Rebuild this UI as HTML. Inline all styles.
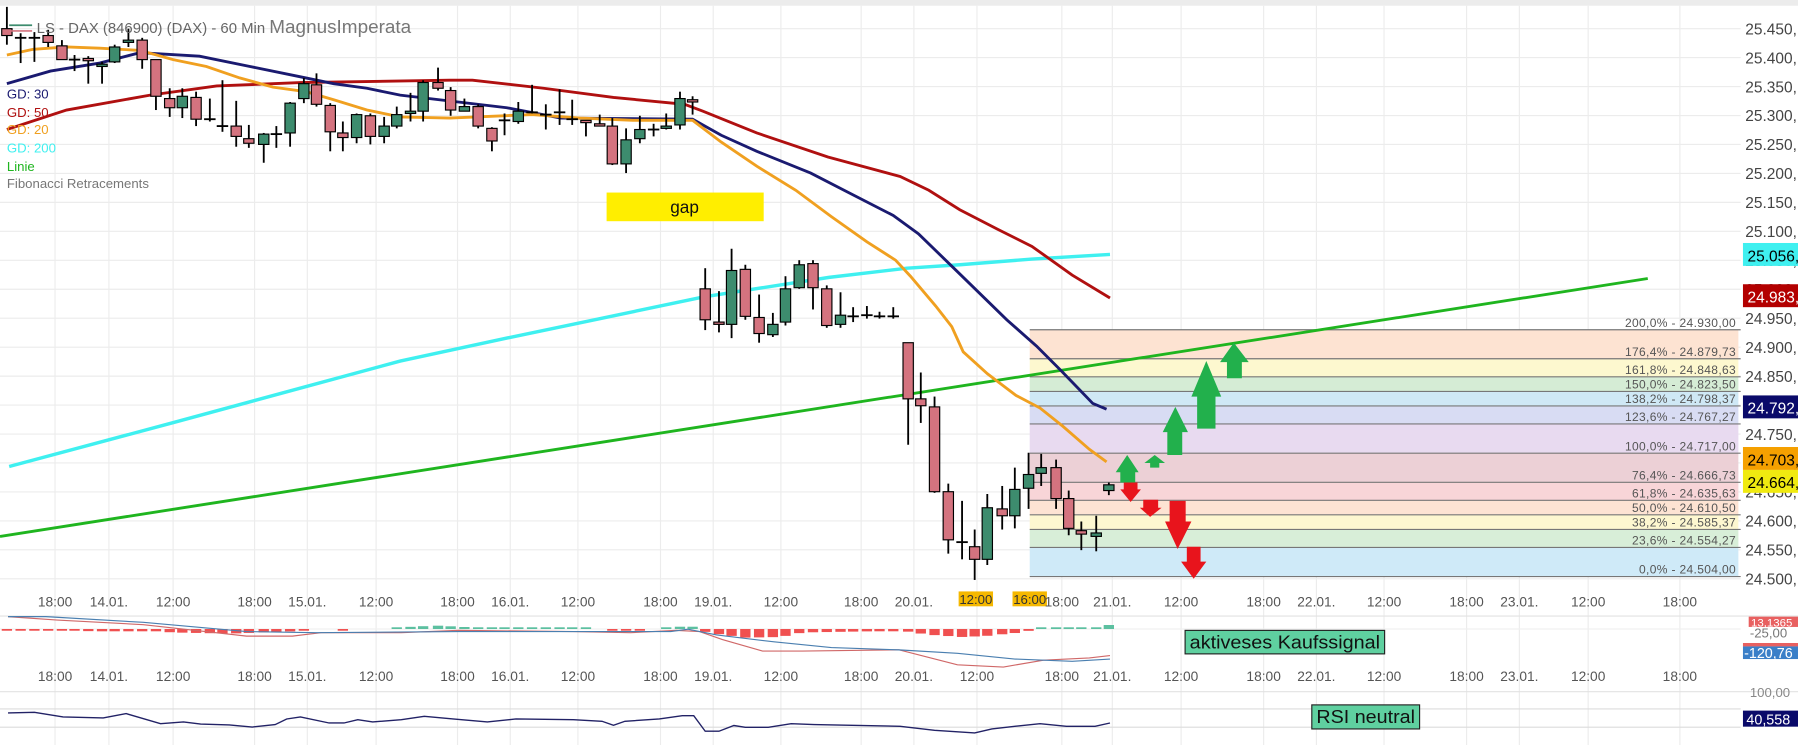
<!DOCTYPE html>
<html><head><meta charset="utf-8"><style>
html,body{margin:0;padding:0;background:#fff;overflow:hidden}
svg{display:block}
text{font-family:"Liberation Sans",Arial,sans-serif}
</style></head><body>
<svg id="s" width="1798" height="745" viewBox="0 0 1568 650" preserveAspectRatio="none" xmlns="http://www.w3.org/2000/svg">
<rect x="0" y="0" width="1568" height="650" fill="#fff"/>
<rect x="0" y="0" width="1568" height="5" fill="#ececec"/>
<g id="grid" stroke="#ececec" stroke-width="1"></g>
<g id="fib"></g>
<!-- MA lines -->
<polyline fill="none" stroke="#3ff0f0" stroke-width="3" points="8,407 150,369 349,315 442,295 614,259 723,242 791,234 837,231 900,226 968,222"/>
<polyline fill="none" stroke="#1fb51f" stroke-width="2.5" points="0,468 1437,243"/>
<polyline fill="none" stroke="#b01010" stroke-width="2.5" points="6,113 58,96 131,83 189,75 262,72 392,70 412,70 474,77 535,85 597,91 613,97 660,116 722,137 785,154 810,166 837,183 870,200 900,215 935,240 968,260"/>
<polyline fill="none" stroke="#1a1a70" stroke-width="2.5" points="6,73 44,62 87,55 122,46 174,49 218,58 262,67 291,73 320,77 349,83 442,94 489,103 604,104 629,118 660,132 707,151 738,167 779,188 801,204 838,240 878,279 904,302 925,323 953,352 965,357"/>
<polyline fill="none" stroke="#f0a020" stroke-width="2.5" points="6,48 29,43 58,41 87,42 122,44 151,52 180,58 209,68 238,76 267,80 291,87 320,96 349,102 392,103 464,100 506,103 552,105 604,105 629,124 660,145 694,166 725,189 756,211 781,227 794,241 816,267 830,285 840,307 861,326 886,345 907,356 927,372 950,392 965,403"/>
<g id="candles"></g>
<!-- arrows -->
<g fill="#22b04c">
<polygon points="983,397 993,412 990,412 990,421 977,421 977,412 973,412"/>
<polygon points="1007,397 1016,404 1011,404 1011,408 1003,408 1003,404 998,404"/>
<polygon points="1025,355 1036,377 1031,377 1031,397 1018,397 1018,377 1014,377"/>
<polygon points="1052,315 1065,346 1060,346 1060,374 1044,374 1044,346 1039,346"/>
<polygon points="1076,299 1089,316 1083,316 1083,330 1070,330 1070,316 1064,316"/>
</g>
<g fill="#e8141c">
<polygon points="980,421 992,421 992,427 995,427 986,438 977,427 980,427"/>
<polygon points="997,436 1010,436 1010,443 1013,443 1003,451 994,443 997,443"/>
<polygon points="1020,437 1034,437 1034,455 1039,455 1027,479 1016,455 1020,455"/>
<polygon points="1035,477 1047,477 1047,490 1052,490 1041,505 1030,490 1035,490"/>
</g>
<!-- gap -->
<rect x="529" y="168" width="137" height="25" fill="#ffee00"/>
<text x="597" y="186" font-size="15" text-anchor="middle" fill="#111">gap</text>
<!-- title & legend -->
<line x1="8" y1="22" x2="28" y2="22" stroke="#3d8c6e" stroke-width="1.5"/>
<line x1="8" y1="27" x2="28" y2="27" stroke="#d4737f" stroke-width="1.5"/>
<text x="32" y="29" font-size="13" fill="#666">LS - DAX (846900) (DAX) - 60 Min <tspan font-size="16.5" fill="#777">MagnusImperata</tspan></text>
<g font-size="11.5">
<text x="6" y="86" fill="#1a1a70">GD: 30</text>
<text x="6" y="102" fill="#b01010">GD: 50</text>
<text x="6" y="117" fill="#f0a020">GD: 20</text>
<text x="6" y="133" fill="#3ff0f0">GD: 200</text>
<text x="6" y="149" fill="#1fb51f">Linie</text>
<text x="6" y="164" fill="#777">Fibonacci Retracements</text>
</g>
<!-- price axis -->
<g id="pax" font-size="13.5" fill="#444"></g>
<g font-size="13.5">
<rect x="1520" y="212" width="48" height="20" fill="#3ff0f0"/><text x="1524" y="228" fill="#000">25.056,</text>
<rect x="1520" y="248" width="48" height="20" fill="#b30000"/><text x="1524" y="264" fill="#fff">24.983,</text>
<rect x="1520" y="345" width="48" height="20" fill="#0a0a6a"/><text x="1524" y="361" fill="#fff">24.792,</text>
<rect x="1520" y="390" width="48" height="20" fill="#f5a000"/><text x="1524" y="406" fill="#000">24.703,</text>
<rect x="1520" y="410" width="48" height="20" fill="#f0ea10"/><text x="1524" y="426" fill="#000">24.664,</text>
</g>
<!-- panels -->
<line x1="0" y1="537.5" x2="1568" y2="537.5" stroke="#e2e2e2"/>
<line x1="0" y1="603.5" x2="1568" y2="603.5" stroke="#e2e2e2"/>
<line x1="0" y1="618.5" x2="1518" y2="618.5" stroke="#dcdcdc"/>
<line x1="0" y1="634.5" x2="1518" y2="634.5" stroke="#dcdcdc"/>
<line x1="0" y1="548.8" x2="1518" y2="548.8" stroke="#f0f0f0"/>
<g id="hist"></g>
<polyline fill="none" stroke="#d06868" stroke-width="1" points="7,538 50,541 125,545 215,555 255,555 280,552 350,552 400,550 500,551 550,552 590,550 610,551 630,558 665,568 700,568 784,567 835,580 875,582 910,576 950,574 968,572"/>
<polyline fill="none" stroke="#4a7fb0" stroke-width="1" points="7,538 40,538 125,543 215,551 275,552 400,551 500,551 585,551 600,549 625,554 675,560 725,565 784,567 835,570 885,575 935,577 968,575"/>
<polyline fill="none" stroke="#222266" stroke-width="1.2" points="7,622 30,621.5 55,625.5 90,626.4 110,622.6 140,631.4 160,629.9 175,631.7 200,632.5 220,634.3 240,632.2 250,627.3 262,625.5 287,630.8 300,630.8 312,627.9 325,629.9 350,627.9 370,625 395,627.3 425,629.9 450,627.3 500,627.9 525,629.3 535,632.8 545,629.3 575,627.3 595,624.4 605,624.4 615,638 627,638 640,633 650,634.6 670,634.6 690,631.4 710,632.2 785,633.7 815,637.2 850,639.5 865,636 885,633.7 907,631.4 930,633.7 955,633.7 968,630.8"/>
<rect x="1033.5" y="550" width="174" height="20.5" fill="#5fd0a0" stroke="#222" stroke-width="1"/>
<text x="1120.5" y="566" font-size="16" text-anchor="middle" fill="#111" textLength="166" lengthAdjust="spacingAndGlyphs">aktiveses Kaufssignal</text>
<rect x="1144" y="615" width="94" height="21" fill="#5fd0a0" stroke="#222" stroke-width="1"/>
<text x="1191" y="631" font-size="16" text-anchor="middle" fill="#111" textLength="86" lengthAdjust="spacingAndGlyphs">RSI neutral</text>
<g font-size="11.5">
<rect x="1525" y="538" width="43" height="9" fill="#e86060"/><text x="1527" y="546.5" fill="#fff" font-size="10">13,1365</text>
<text x="1526" y="556" fill="#777">-25,00</text>
<rect x="1520" y="561" width="48" height="3" fill="#e86060"/>
<rect x="1520" y="564" width="48" height="11" fill="#3a7fc8"/><text x="1521" y="574" fill="#fff" font-size="12.5">-120,76</text>
<text x="1526" y="608" fill="#888">100,00</text>
<rect x="1520" y="620" width="48" height="14" fill="#0a0a6a"/><text x="1523" y="632" fill="#fff" font-size="12.5">40,558</text>
</g>
<g id="tl" font-size="12" fill="#555" text-anchor="middle"></g>
<rect x="836" y="516" width="30" height="13" fill="#f5b800"/>
<rect x="883" y="516" width="30" height="13" fill="#f5b800"/>
<g font-size="11.5" fill="#333" text-anchor="middle">
<text x="851" y="527">12:00</text><text x="898" y="527">16:00</text>
</g>
</svg>
<script>
var NS="http://www.w3.org/2000/svg",svg=document.getElementById('s');
function el(p,t,a){var e=document.createElementNS(NS,t);for(var k in a)e.setAttribute(k,a[k]);p.appendChild(e);return e;}
var tx=[48,95,151,222,268,328,399,445,504,576,622,681,751,797,852,926,970,1030,1102,1148,1207,1279,1325,1385,1465];
var g=document.getElementById('grid');
tx.forEach(function(x){el(g,'line',{x1:x,y1:5,x2:x,y2:650});});
for(var k=0;k<20;k++){var y=25+25.263*k;el(g,'line',{x1:0,y1:y,x2:1518,y2:y});}
// price axis
var pax=document.getElementById('pax');
for(var k=0;k<20;k++){var p=25450-50*k;var s=(p/1000).toFixed(3)+',';var t=el(pax,'text',{x:1522,y:25+25.263*k+5});t.textContent=s;}
// fib
var f=document.getElementById('fib');
var lv=[[287.7,'200,0% - 24.930,00','#fde3d2'],[313,'176,4% - 24.879,73','#fdf8cf'],[328.8,'161,8% - 24.848,63','#d5ecd5'],[341.5,'150,0% - 24.823,50','#cfe8f5'],[354.2,'138,2% - 24.798,37','#d8dcf3'],[369.9,'123,6% - 24.767,27','#e8daf0'],[395.4,'100,0% - 24.717,00','#ecd0d6'],[420.8,'76,4% - 24.666,73','#f8d5d8'],[436.5,'61,8% - 24.635,63','#fde3d3'],[449.2,'50,0% - 24.610,50','#fdf7d0'],[461.9,'38,2% - 24.585,37','#d8eed8'],[477.6,'23,6% - 24.554,27','#cfeaf8'],[503,'0,0% - 24.504,00',null]];
for(var i=0;i<lv.length-1;i++){el(f,'rect',{x:898,y:lv[i][0],width:618,height:lv[i+1][0]-lv[i][0],fill:lv[i][2]});}
lv.forEach(function(l){el(f,'line',{x1:898,y1:l[0],x2:1518,y2:l[0],stroke:'#777','stroke-width':1});});
lv.forEach(function(l,i){var t=el(f,'text',{x:1514,y:l[0]-2.5,'font-size':10.5,fill:'#555','text-anchor':'end','letter-spacing':'0.3'});t.textContent=l[1];});
// candles
var C=[[6,25,31,6,39,'r'],[18,33,33,29,55,'d'],[30,33,33,28,54,'d'],[42,31,37,26,41,'r'],[54,40,52,35,52,'r'],[65,52,52,48,62,'d'],[77,51,53,49,73,'r'],[89,56,58,54,73,'g'],[100,41,54,39,55,'g'],[112,35,37,25,41,'g'],[124,35,52,33,60,'r'],[136,52,84,52,96,'r'],[148,86,94,77,102,'r'],[159,84,94,77,103,'g'],[171,85,104,80,110,'r'],[183,104,104,86,106,'d'],[194,110,110,70,115,'d'],[206,110,119,88,128,'r'],[217,121,125,109,129,'r'],[230,117,126,116,142,'g'],[241,117,117,110,129,'d'],[253,90,116,89,128,'g'],[265,73,86,68,90,'g'],[276,74,91,64,93,'r'],[288,92,115,90,132,'r'],[299,116,120,106,132,'r'],[311,100,120,99,125,'g'],[323,101,119,99,126,'r'],[335,110,119,102,125,'g'],[346,100,110,93,112,'g'],[358,97,99,81,106,'g'],[369,72,97,70,106,'g'],[382,72,77,59,79,'r'],[393,79,96,76,101,'r'],[405,93,97,86,97,'g'],[417,93,110,91,112,'r'],[429,112,123,111,132,'r'],[440,105,105,99,118,'d'],[452,97,106,89,108,'g'],[464,98,98,74,99,'d'],[476,100,100,91,113,'d'],[488,98,98,78,109,'d'],[499,104,104,87,109,'d'],[511,105,106.5,105,119,'r'],[523,108,109.5,100,110,'r'],[534,110,143,103,144,'r'],[546,122,143,112,151,'g'],[558,113,121,101,125,'g'],[570,113,113,108,119,'d'],[581,110,111.5,99,113,'g'],[593,86,109,80,113,'g'],[604,87,89,84,100,'r'],[615,252,279,234,288,'r'],[627,281,283,254,290,'r'],[638,236,283,217,295,'g'],[650,235,276,231,279,'r'],[662,277,291,257,299,'r'],[674,283,292,273,294,'g'],[685,252,281,241,284,'g'],[697,231,251,227,252,'g'],[709,230,251,227,270,'r'],[721,252,284,249,286,'r'],[733,275,283,255,286,'g'],[744,276,276,268,281,'d'],[756,275,275,267,278,'d'],[767,276,276,272,278,'d'],[779,276,276,268,278,'d'],[792,299,348,299,388,'r'],[803,348,354,325,369,'r'],[815,355,429,346,430,'r'],[827,429,471,422,483,'r'],[839,473,473,437,488,'d'],[850,477,488,462,506,'r'],[861,443,488,431,493,'g'],[874,444,450,424,462,'r'],[885,427,450,408,461,'g'],[897,414,426,395,444,'g'],[908,408,413,396,424,'g'],[921,408,435,401,444,'r'],[932,435,461,428,467,'r'],[943,463,466,455,480,'r'],[956,465,468,450,481,'g'],[967,423,428,421,432,'g']];
var cg=document.getElementById('candles');
C.forEach(function(c){var x=c[0];el(cg,'line',{x1:x,y1:c[3],x2:x,y2:c[4],stroke:'#000','stroke-width':1.6});
 if(c[5]=='d'){el(cg,'line',{x1:x-5,y1:c[1],x2:x+5,y2:c[1],stroke:'#000','stroke-width':1.6});}
 else{el(cg,'rect',{x:x-4.5,y:c[1],width:9,height:Math.max(2,c[2]-c[1]),fill:c[5]=='g'?'#3d8c6e':'#d4737f',stroke:'#000','stroke-width':1});}});
// histogram
var H=[[0,-1],[60,-1],[80,-2],[140,-2],[150,-3],[200,-4],[230,-3],[255,-2],[270,0],[290,0],[295,-1],[305,0],[335,0],[340,1],[380,3],[420,1],[445,1],[515,1],[525,0],[530,-1],[550,-1],[575,0],[590,2],[605,2],[612,-2],[630,-5],[650,-7.5],[680,-7],[700,-3],[760,-2],[790,-2],[810,-5],[840,-7],[860,-6],[890,-3],[900,-1],[905,1],[955,1],[967,3.5]];
function hv(x){for(var i=0;i<H.length-1;i++){if(x>=H[i][0]&&x<=H[i+1][0]){var t=(x-H[i][0])/(H[i+1][0]-H[i][0]);return H[i][1]+t*(H[i+1][1]-H[i][1]);}}return 0;}
var hg=document.getElementById('hist');
C.forEach(function(c){var v=hv(c[0]);if(Math.abs(v)<0.4)return;var h=Math.max(1.5,Math.abs(v));
 el(hg,'rect',{x:c[0]-4.5,y:v>0?548.8-h:548.8,width:9,height:h,fill:v>0?'#5cc0a0':'#f05050'});});
// time labels
var L1=['18:00','14.01.','12:00','18:00','15.01.','12:00','18:00','16.01.','12:00','18:00','19.01.','12:00','18:00','20.01.','','18:00','21.01.','12:00','18:00','22.01.','12:00','18:00','23.01.','12:00','18:00'];
var tl=document.getElementById('tl');
</script>
<svg width="0" height="0"></svg>
<div style="position:absolute;left:0;top:0;width:1798px;height:745px;pointer-events:none">
<svg width="1798" height="745" viewBox="0 0 1568 650" preserveAspectRatio="none" xmlns="http://www.w3.org/2000/svg" style="position:absolute;left:0;top:0">
<g font-family="Liberation Sans, Arial, sans-serif" font-size="12" fill="#555" text-anchor="middle">
<text x="48" y="529">18:00</text><text x="95" y="529">14.01.</text><text x="151" y="529">12:00</text><text x="222" y="529">18:00</text><text x="268" y="529">15.01.</text><text x="328" y="529">12:00</text><text x="399" y="529">18:00</text><text x="445" y="529">16.01.</text><text x="504" y="529">12:00</text><text x="576" y="529">18:00</text><text x="622" y="529">19.01.</text><text x="681" y="529">12:00</text><text x="751" y="529">18:00</text><text x="797" y="529">20.01.</text><text x="926" y="529">18:00</text><text x="970" y="529">21.01.</text><text x="1030" y="529">12:00</text><text x="1102" y="529">18:00</text><text x="1148" y="529">22.01.</text><text x="1207" y="529">12:00</text><text x="1279" y="529">18:00</text><text x="1325" y="529">23.01.</text><text x="1385" y="529">12:00</text><text x="1465" y="529">18:00</text>
<text x="48" y="594">18:00</text><text x="95" y="594">14.01.</text><text x="151" y="594">12:00</text><text x="222" y="594">18:00</text><text x="268" y="594">15.01.</text><text x="328" y="594">12:00</text><text x="399" y="594">18:00</text><text x="445" y="594">16.01.</text><text x="504" y="594">12:00</text><text x="576" y="594">18:00</text><text x="622" y="594">19.01.</text><text x="681" y="594">12:00</text><text x="751" y="594">18:00</text><text x="797" y="594">20.01.</text><text x="852" y="594">12:00</text><text x="926" y="594">18:00</text><text x="970" y="594">21.01.</text><text x="1030" y="594">12:00</text><text x="1102" y="594">18:00</text><text x="1148" y="594">22.01.</text><text x="1207" y="594">12:00</text><text x="1279" y="594">18:00</text><text x="1325" y="594">23.01.</text><text x="1385" y="594">12:00</text><text x="1465" y="594">18:00</text>
</g>
</svg>
</div>
</body></html>
